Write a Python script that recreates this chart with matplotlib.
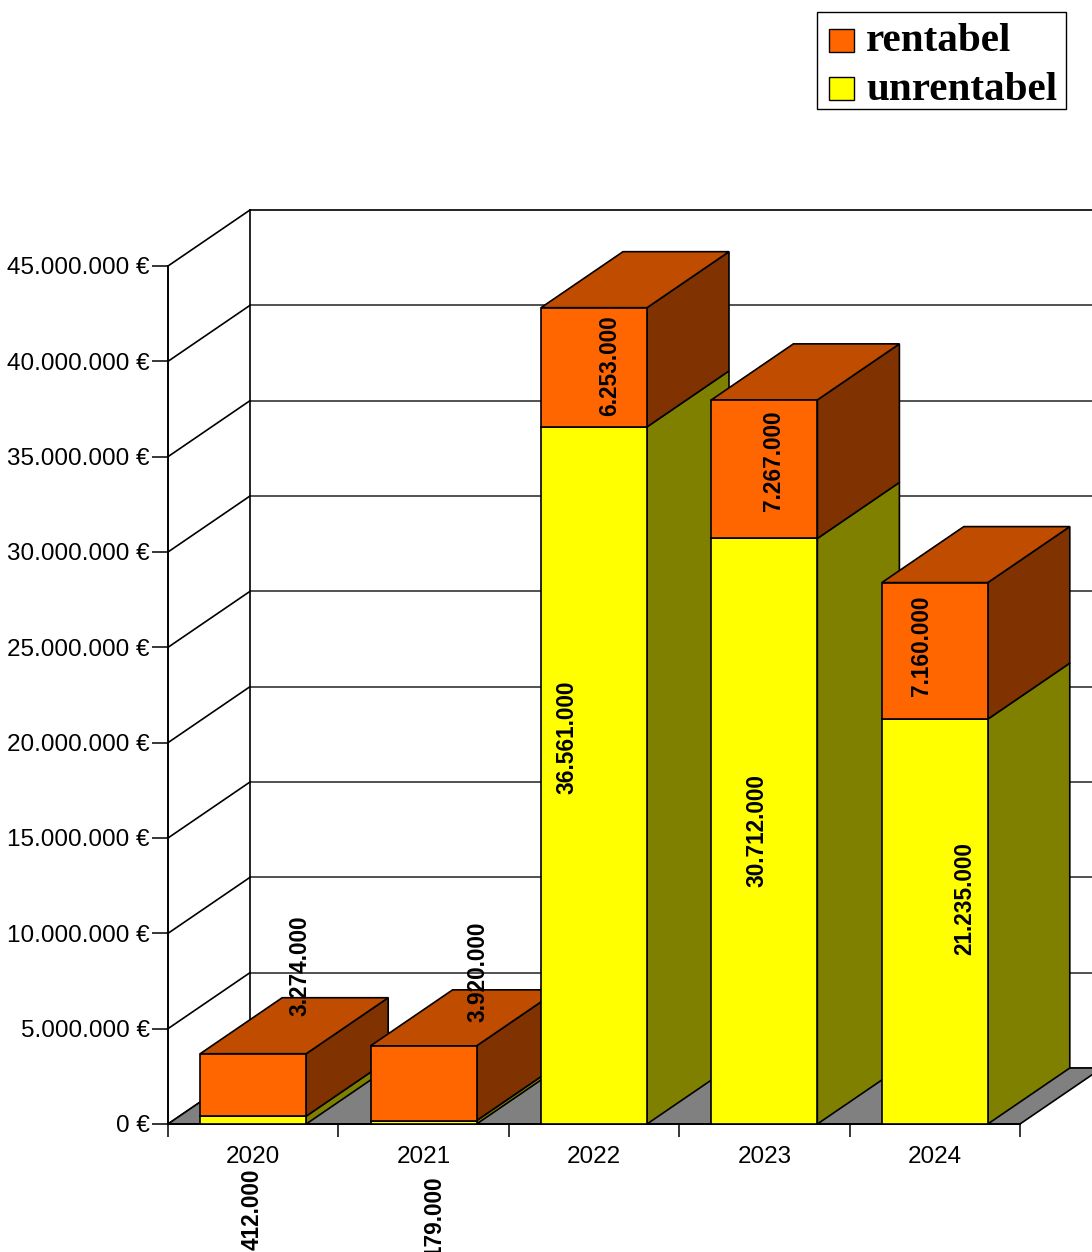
import matplotlib
matplotlib.use("Agg")
import matplotlib.pyplot as plt
from matplotlib.patches import Polygon, Rectangle

# ---- data -------------------------------------------------------------
years = ["2020", "2021", "2022", "2023", "2024"]
unrentabel = [412000, 179000, 36561000, 30712000, 21235000]
rentabel = [3274000, 3920000, 6253000, 7267000, 7160000]
y_ticks = [0, 5000000, 10000000, 15000000, 20000000, 25000000,
           30000000, 35000000, 40000000, 45000000]

# ---- style ------------------------------------------------------------
YELLOW, YELLOW_SIDE = "#FFFF00", "#808000"
ORANGE, ORANGE_TOP, ORANGE_SIDE = "#FF6600", "#C04C00", "#803300"
FLOOR = "#808080"
W_PX, H_PX = 1092, 1252
DPI = 100
SANS = "Liberation Sans"

# label nudges (pixels: right, down) relative to the segment centre
unrent_nudge = [(-1, 89), (11, 94), (-27, -38), (-7, -1), (30, -23)]
rent_nudge = [(47, -119), (54, -111), (16, -2), (9, -8), (-13, -5)]

fig = plt.figure(figsize=(W_PX / DPI, H_PX / DPI), dpi=DPI)
fig.patch.set_facecolor("white")

# front plane of the 3-D box
ax = fig.add_axes([168 / W_PX, 128 / H_PX, 852 / W_PX, 858 / H_PX])
ax.set_xlim(-0.5, len(years) - 0.5)
ax.set_ylim(0, 45000000)
ax.patch.set_visible(False)
for s in ax.spines.values():
    s.set_visible(False)

# depth of the box expressed in data units (82 px right, 56 px up)
x_per_px = (len(years)) / 852
y_per_px = 45000000 / 858
DX, DY = 82 * x_per_px, 56 * y_per_px

x0, x1 = -0.5, len(years) - 0.5
ymax = y_ticks[-1]
LW = 1.2

# back wall grid lines
for v in y_ticks:
    col = "black" if v == ymax else "#333333"
    ax.plot([x0 + DX, x1 + DX + 1], [v + DY, v + DY], color=col,
            lw=LW, clip_on=False, zorder=1)
ax.plot([x0 + DX, x0 + DX], [DY, ymax + DY], color="black", lw=LW,
        clip_on=False, zorder=1)

# left wall diagonals
for v in y_ticks:
    ax.plot([x0, x0 + DX], [v, v + DY], color="black", lw=LW,
            clip_on=False, zorder=1)

# floor
ax.add_patch(Polygon([(x0, 0), (x1, 0), (x1 + DX, DY), (x0 + DX, DY)],
                     closed=True, facecolor=FLOOR, edgecolor="black",
                     lw=LW, clip_on=False, zorder=2))

# front axis lines
ax.plot([x0, x0], [0, ymax], color="black", lw=1.4, clip_on=False, zorder=3)
ax.plot([x0, x1], [0, 0], color="black", lw=1.4, clip_on=False, zorder=3)


def face(pts, color, z):
    ax.add_patch(Polygon(pts, closed=True, facecolor=color,
                         edgecolor="black", lw=LW, clip_on=False,
                         zorder=z, joinstyle="miter"))


bw = 0.622
for i in range(len(years)):
    xl, xr = i - bw / 2, i + bw / 2
    z = 10 + i * 5
    y_u = unrentabel[i]
    y_t = y_u + rentabel[i]
    # side faces
    face([(xr, 0), (xr, y_u), (xr + DX, y_u + DY), (xr + DX, DY)],
         YELLOW_SIDE, z)
    face([(xr, y_u), (xr, y_t), (xr + DX, y_t + DY), (xr + DX, y_u + DY)],
         ORANGE_SIDE, z)
    # top face
    face([(xl, y_t), (xr, y_t), (xr + DX, y_t + DY), (xl + DX, y_t + DY)],
         ORANGE_TOP, z)
    # front faces
    ax.add_patch(Rectangle((xl, 0), bw, y_u, facecolor=YELLOW,
                           edgecolor="black", lw=LW, clip_on=False,
                           zorder=z + 1))
    ax.add_patch(Rectangle((xl, y_u), bw, rentabel[i], facecolor=ORANGE,
                           edgecolor="black", lw=LW, clip_on=False,
                           zorder=z + 1))

# value labels
for i in range(len(years)):
    segs = [(unrentabel[i] / 2, unrentabel[i], unrent_nudge[i]),
            (unrentabel[i] + rentabel[i] / 2, rentabel[i], rent_nudge[i])]
    for yc, val, (ndx, ndy) in segs:
        ax.annotate(f"{val:,.0f}".replace(",", "."), xy=(i, yc),
                    xytext=(ndx, -ndy), textcoords="offset pixels",
                    rotation=90, ha="center", va="center",
                    fontsize=16.3, fontweight="bold", family=SANS,
                    color="black", annotation_clip=False, zorder=100)

# y ticks
ax.set_yticks(y_ticks)
ax.set_yticklabels([f"{v:,.0f}".replace(",", ".") + " €" for v in y_ticks],
                   family=SANS, fontsize=17.5)
ax.tick_params(axis="y", length=11.5, width=1.1, pad=1.5, color="black")

# x ticks: boundaries get tick marks, centres get labels
ax.set_xticks([k - 0.5 for k in range(len(years) + 1)])
ax.set_xticklabels([])
ax.set_xticks(range(len(years)), minor=True)
ax.set_xticklabels(years, minor=True, family=SANS, fontsize=17.5)
ax.tick_params(axis="x", which="major", length=9.5, width=1.1)
ax.tick_params(axis="x", which="minor", length=0, pad=16)


# legend (pixel layout converted to figure fraction)
def fx(px):
    return px / W_PX


def fy(py):
    return 1 - py / H_PX


fig.patches.append(Rectangle((fx(817), fy(109)), fx(1066) - fx(817),
                             fy(12) - fy(109), transform=fig.transFigure,
                             facecolor="white", edgecolor="black", lw=1.0))
for (top, col, name, base) in [(29, ORANGE, "rentabel", 51),
                               (77, YELLOW, "unrentabel", 100)]:
    fig.patches.append(Rectangle((fx(829), fy(top + 23)), fx(854) - fx(829),
                                 fy(top) - fy(top + 23),
                                 transform=fig.transFigure, facecolor=col,
                                 edgecolor="black", lw=1.0))
    fig.text(fx(866), fy(base), name, family="Liberation Serif",
             fontweight="bold", fontsize=29.6, va="baseline", ha="left")

fig.savefig("out.png", dpi=DPI)
